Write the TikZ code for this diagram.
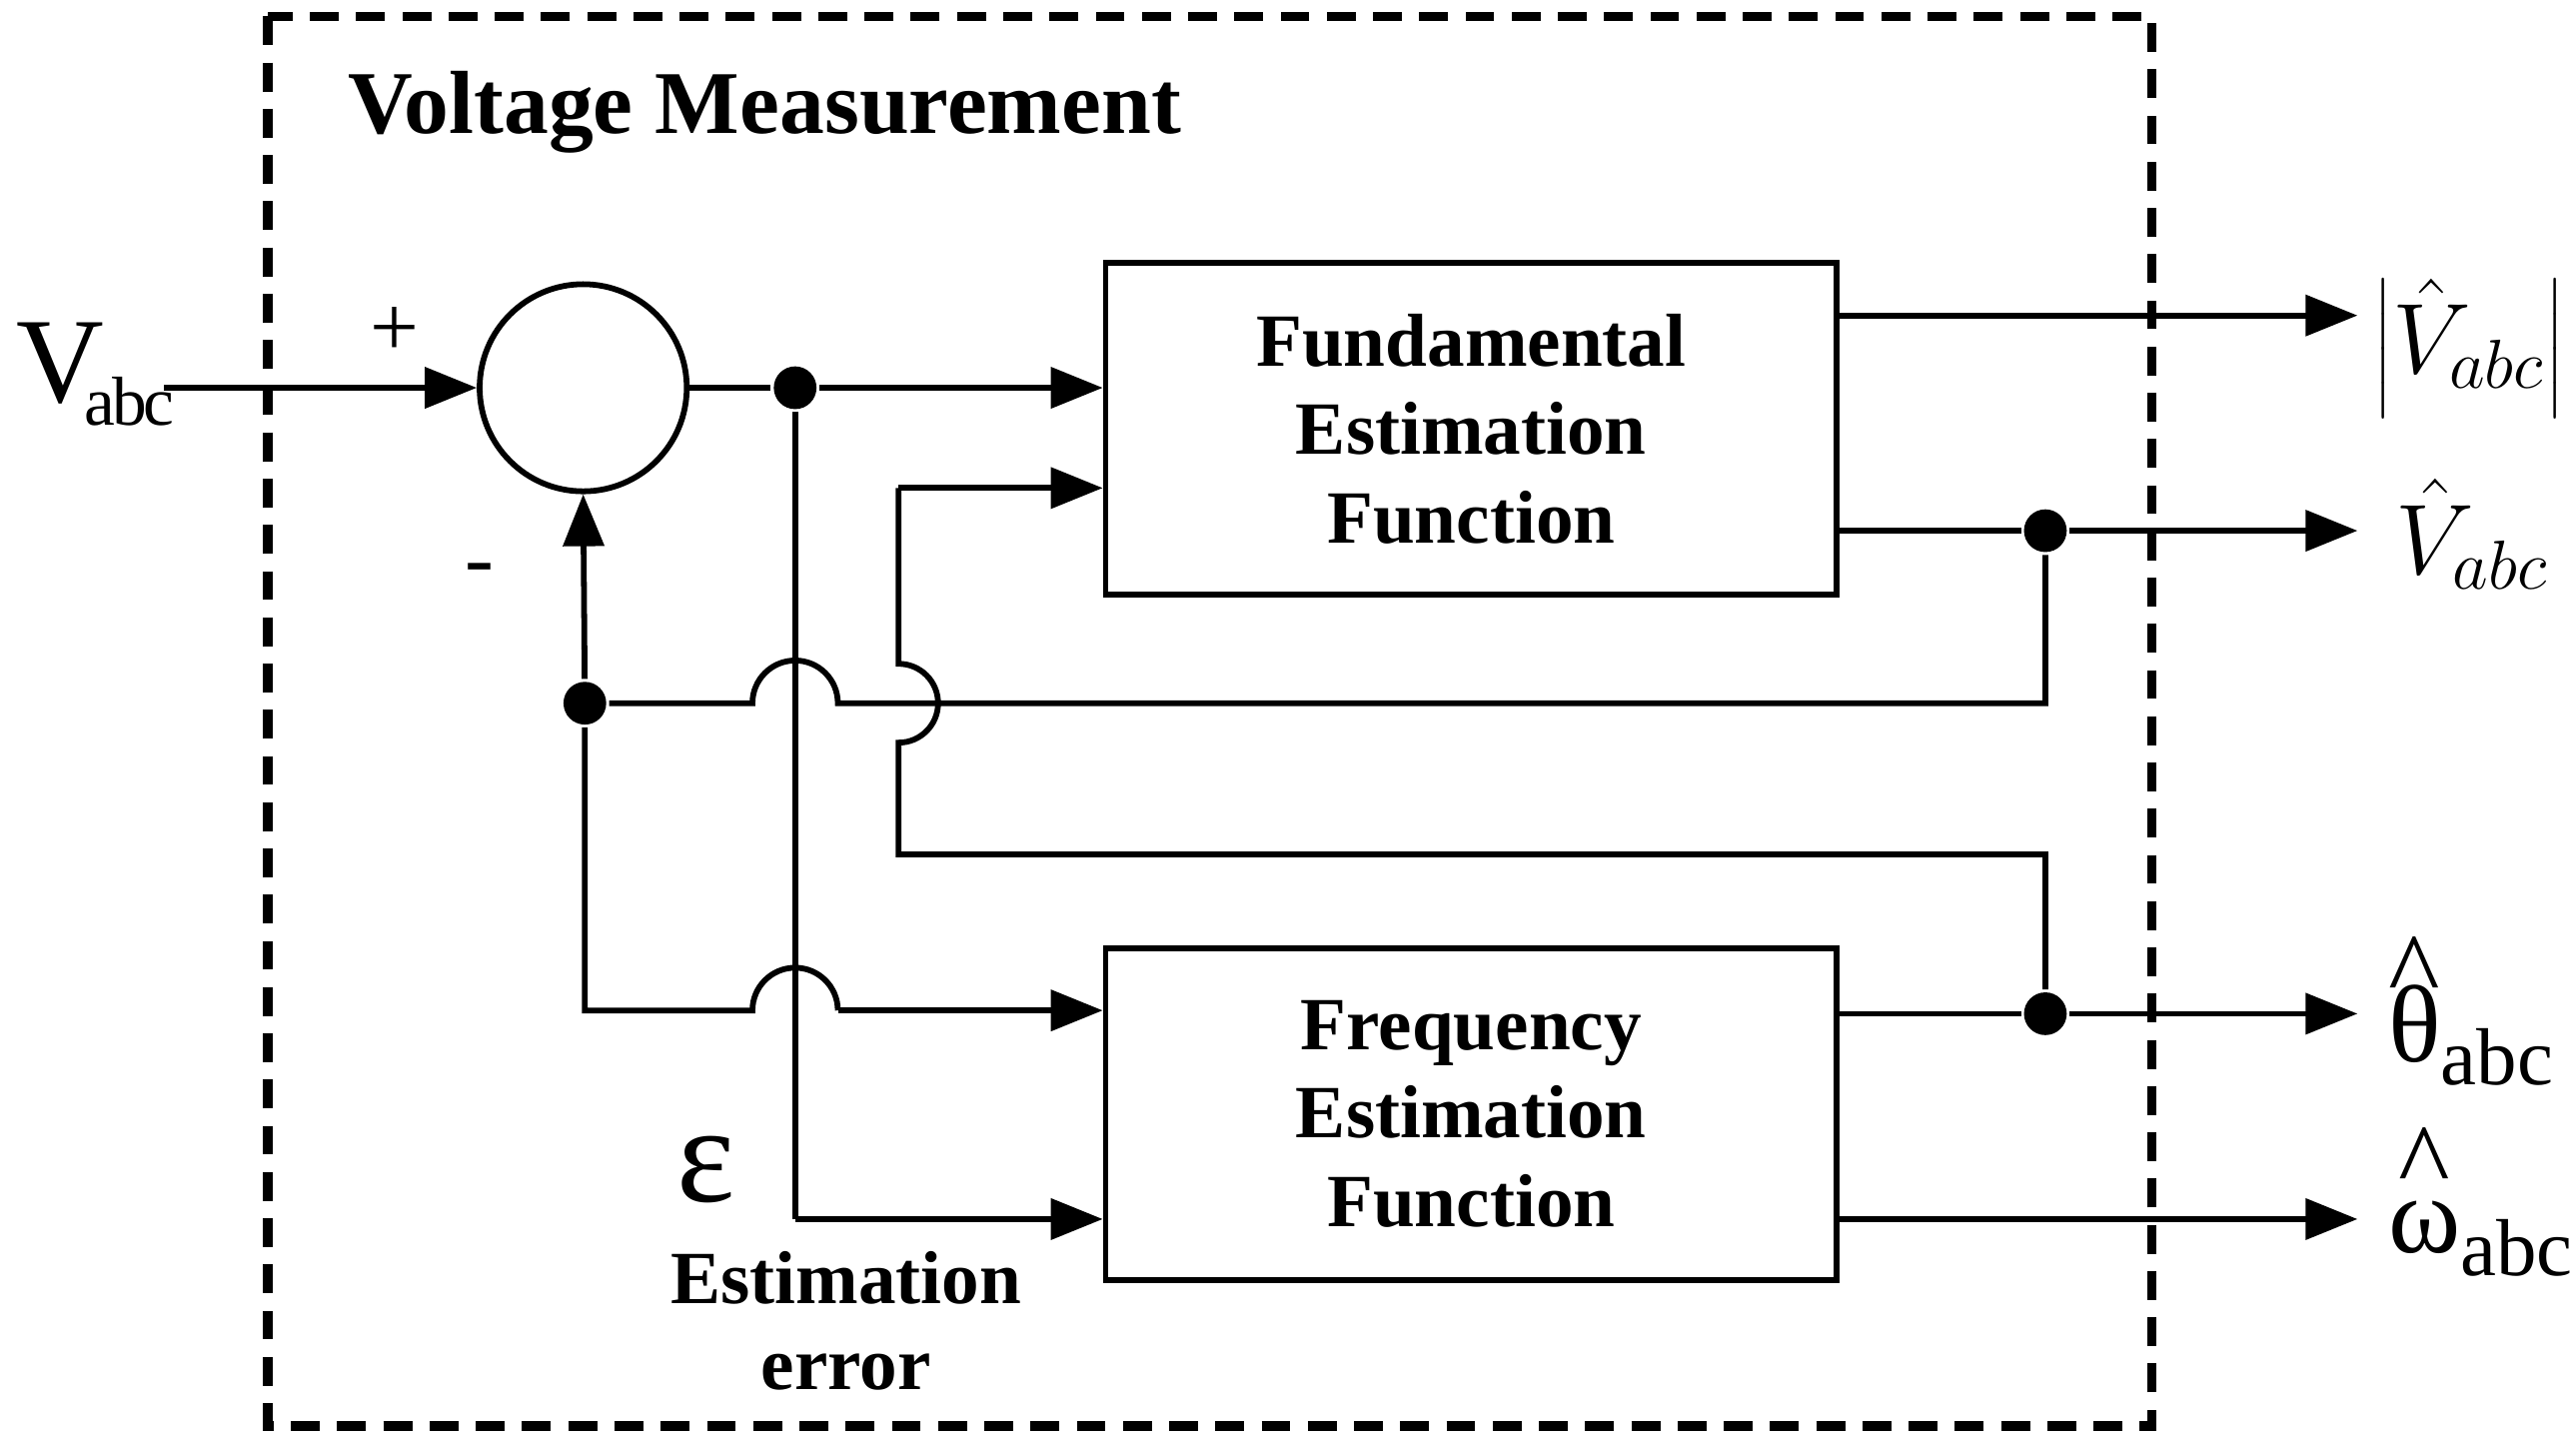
\documentclass[tikz,border=0pt]{standalone}
\usepackage{fontspec}
\setmainfont{Liberation Serif}
\usetikzlibrary{arrows.meta}
\newcommand{\hatsym}[1]{\ooalign{#1\cr\hidewidth\raisebox{1.05ex}{\^{}}\hidewidth\cr}}
\begin{document}
\begin{tikzpicture}[x=0.01cm,y=-0.01cm,line width=1pt,
  arr/.style={-{Triangle[length=9pt,width=7pt]}},
  blk/.style={draw,minimum width=445*0.01cm,minimum height=202*0.01cm,align=center,font=\fontsize{13}{15.3}\selectfont\bfseries},
  dot/.style={circle,fill,inner sep=0pt,minimum size=0.26cm},
  lbl/.style={inner sep=0pt}]
\useasboundingbox (0,0) rectangle (1568,878);
\draw[dashed,line width=1.6pt,dash pattern=on 5pt off 3pt] (163,10) rectangle (1310,868);
\node[lbl,anchor=west,font=\fontsize{15.5}{18}\selectfont\bfseries] (title) at (210,68) {Voltage Measurement};
\node[lbl,anchor=west,font=\fontsize{21}{24}\selectfont] (vin) at (8,228) {V\kern-3pt\raisebox{-4pt}{\fontsize{12}{13}\selectfont\kern-0.3pt a\kern-0.6pt b\kern-0.6pt c}};
\coordinate (vinend) at (100,236);
\node[draw,circle,minimum size=1.26cm,inner sep=0pt] (sum) at (355,236) {};
\node[lbl,font=\fontsize{15}{18}\selectfont] (plus) at (240,202) {+};
\node[lbl,font=\fontsize{15}{18}\selectfont] (minus) at (292,350) {-};
\node[blk] (fef) at (895.5,261) {Fundamental\\Estimation\\Function};
\node[blk] (fre) at (895.5,678) {Frequency\\Estimation\\Function};
\node[dot] (j1) at (484,236) {};
\node[dot] (j2) at (1245,323) {};
\node[dot] (j3) at (356,428) {};
\node[dot] (j4) at (1245,617) {};
\coordinate (o1) at (1435,192);
\coordinate (o2) at (1435,323);
\coordinate (o3) at (1435,617);
\coordinate (o4) at (1435,742);
\draw[arr] (vinend) -- (sum.west);
\draw (sum.east) -- (j1);
\draw[arr] (j1) -- (fef.west |- j1);
\draw (j1) -- (484,742);
\draw[arr] (484,742) -- (fre.west |- 0,742);
% feedback
\draw (fef.east |- j2) -- (j2);
\draw[arr] (j2) -- (o2);
\draw (j2) -- (1245,428) -- (510,428) arc[start angle=0,end angle=-180,radius=26] -- (j3);
\draw[arr] (j3) -- (sum.south);
\draw (j3) -- (356,615) -- (458,615) arc[start angle=180,end angle=360,radius=26];
\draw[arr] (510,615) -- (fre.west |- 0,615);
% theta path
\draw (fre.east |- j4) -- (j4);
\draw[arr] (j4) -- (o3);
\draw (j4) -- (1245,520) -- (547,520) -- (547,452) arc[start angle=90,end angle=-90,radius=24] -- (547,297);
\draw[arr] (547,297) -- (fef.west |- 0,297);
\draw[arr] (fef.east |- o1) -- (o1);
\draw[arr] (fre.east |- o4) -- (o4);
\node[lbl,font=\fontsize{17}{20}\selectfont] (l1) at (1503,212) {$\left|\hat{V}_{abc}\right|$};
\node[lbl,font=\fontsize{17}{20}\selectfont] (l2) at (1505,325) {$\hat{V}_{abc}$};
\node[lbl,font=\fontsize{19}{22}\selectfont,anchor=west] (l3) at (1452,630) {\hatsym{θ}\raisebox{-4pt}{\fontsize{14}{15}\selectfont abc}};
\node[lbl,font=\fontsize{19}{22}\selectfont,anchor=west] (l4) at (1452,754) {\hatsym{ω}\raisebox{-4pt}{\fontsize{14}{15}\selectfont abc}};
\node[lbl,font=\fontsize{24}{26}\selectfont] (eps) at (430,712) {ε};
\node[lbl,align=center,font=\fontsize{13}{15}\selectfont\bfseries] (err) at (515,804) {Estimation\\error};
\end{tikzpicture}
\end{document}
